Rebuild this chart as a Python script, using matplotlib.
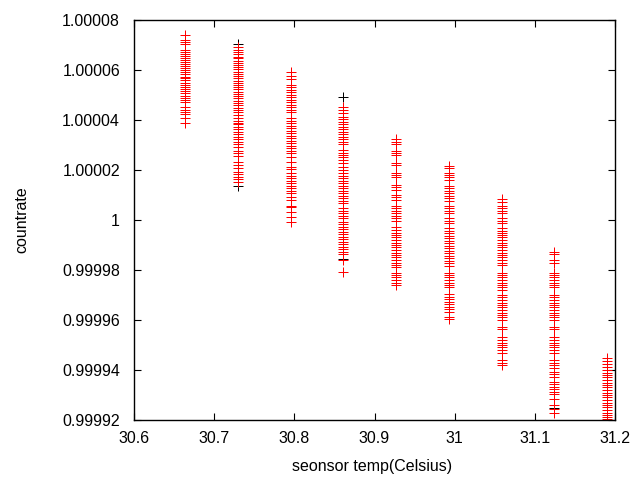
import matplotlib

matplotlib.use("Agg")
import matplotlib.pyplot as plt
from matplotlib.ticker import FuncFormatter, MultipleLocator

# sensor temperature of each measurement group (Celsius)
temps = [30.664, 30.730, 30.796, 30.861, 30.927, 30.993, 31.059, 31.124, 31.190]

# countrate readings per group, stored as (countrate - 1) * 1e6
rate_1 = [74, 72, 71.3, 70.3, 68, 67.3, 66.4, 65.6, 64.9, 64, 63.3, 62.4, 61.7, 60.9,
          60, 59.3, 58.3, 57.3, 56.7, 56, 54.9, 54, 53.3, 52.4, 51.6, 50.7, 49.7,
          48.9, 48, 47.1, 45.2, 44, 43.3, 42.3, 41, 39]
rate_2 = [69.3, 68, 67.3, 66.3, 65.3, 64.7, 63.6, 62.7, 62, 61.1, 60.3, 59.3, 58.4,
          57.6, 56.7, 55.7, 54.9, 54, 53.1, 52.3, 51.3, 50.4, 49.6, 48.7, 47.7, 46.7,
          46, 44.9, 44, 43.1, 42, 40.9, 39.7, 38.9, 38.3, 37.3, 36.4, 35.3, 34.3,
          33.3, 32.4, 31.3, 30.3, 29.3, 27.6, 26.7, 25.7, 23.1, 22, 20.9, 19.3, 18.4,
          17.3, 16.4, 15.1]
rate_3 = [59.3, 57.6, 56.3, 54, 53.1, 52, 51.1, 50, 49.1, 48, 47.1, 46, 45.1, 44,
          43.3, 40.7, 39.6, 38.7, 37.7, 36.7, 35.7, 34.7, 33.7, 32.7, 31.7, 30.7,
          29.7, 28.7, 27.7, 26.7, 25.3, 23.3, 21.3, 20.4, 18.7, 17.6, 16.7, 15.6,
          14.7, 13.6, 12.7, 11.6, 10.7, 9.3, 8, 5.7, 5.1, 3.3, 1.3, -0.7]
rate_4 = [45.3, 44, 42.9, 41.3, 40.3, 39.3, 38.4, 37.3, 36.4, 35.3, 34.4, 33.3, 32.4,
          31.3, 30.4, 28, 26.9, 26, 25.1, 24, 22.9, 21.3, 20, 18.7, 17.6, 16.7, 15.6,
          14.7, 13.6, 12.7, 11.6, 10.7, 9.6, 8.7, 7.6, 6.7, 4.7, 3.7, 2.7, 1.6, 0.7,
          -0.7, -1.7, -2.7, -3.7, -4.7, -5.6, -6.7, -7.7, -8.7, -9.7, -10.7, -11.7,
          -12.7, -13.7, -16, -20.8]
rate_5 = [32.3, 31.3, 30.4, 27.7, 26.9, 26, 22.9, 22, 18.9, 18, 17.1, 14, 13.1, 12,
          10, 9.1, 8, 5.6, 4.7, 3.7, 2.7, 1.6, 0.7, -0.3, -2.9, -4, -5.1, -6, -6.9,
          -8, -9.1, -10, -10.9, -12, -13.1, -14, -14.9, -16, -17.1, -18, -18.9,
          -21.1, -22, -22.9, -24, -25.1, -26]
rate_6 = [21.6, 20.7, 18.9, 18, 17.1, 16, 13.6, 12.7, 11.7, 10.7, 9.6, 8.7, 7.7, 5.6,
          4.7, 3.7, 2.7, 0.7, -0.3, -1.3, -3.3, -4.3, -5.3, -6.4, -7.3, -8.3, -9.3,
          -10.4, -11.3, -12.3, -13.3, -14.4, -15.3, -16.3, -17.3, -18.4, -21.1, -22,
          -22.9, -24, -25.1, -26, -26.9, -29.6, -30.7, -31.7, -32.7, -33.6, -34.7,
          -35.7, -36.7, -38.7, -39.7]
rate_7 = [8.3, 7.3, 5.6, 4.7, 3.7, 2.7, 0.7, -0.3, -1.1, -3.3, -4.3, -5.1, -6, -6.9,
          -8, -9.1, -10, -10.9, -12, -13.1, -14, -14.9, -16, -17.1, -18, -21.1, -22,
          -22.9, -24, -25.1, -26, -26.9, -28, -30, -30.9, -32, -33.1, -34, -34.9,
          -36, -37.1, -38, -38.9, -40, -42.9, -43.7, -46.9, -48, -49.1, -50, -50.9,
          -52, -53.3, -56, -57.1, -58]
rate_8 = [-12.7, -13.6, -16, -17.1, -21.1, -22, -22.9, -24, -25.1, -26, -26.9, -30,
          -30.9, -32, -33.1, -34, -34.9, -36, -37.1, -38, -38.9, -40, -42.9, -43.7,
          -46.9, -48, -49.1, -50, -50.9, -52, -53.3, -56, -57.1, -58, -59.3, -60.7,
          -61.6, -62.7, -64.7, -65.6, -66.7, -67.7, -68.7, -69.6, -71.7, -74, -75.7,
          -77.3]
rate_9 = [-55.3, -56.3, -57.6, -58.7, -60, -61.1, -62, -62.9, -64, -65.1, -66, -66.9,
          -68, -69.1, -70, -70.9, -72, -73.1, -74, -74.9, -76, -77.1, -78, -78.9,
          -79.7, -80]

# first (black) series: only the readings not hidden under the red series
black_temps = [30.730, 30.730, 30.861, 30.861, 31.124]
black_rates = [70.4, 13.6, 49.1, -15.5, -75.0]

groups = [rate_1, rate_2, rate_3, rate_4, rate_5, rate_6, rate_7, rate_8, rate_9]

plt.rcParams["font.family"] = ["Liberation Sans", "DejaVu Sans"]
plt.rcParams["font.size"] = 11.5

xs, ys = [], []
for t, g in zip(temps, groups):
    for v in g:
        xs.append(t)
        ys.append(1 + v * 1e-6)
by = [1 + v * 1e-6 for v in black_rates]

fig = plt.figure(figsize=(6.4, 4.8), dpi=100)
ax = fig.add_axes([134 / 640, 60 / 480, 481 / 640, 400 / 480])

# 1 px wide strokes so the crosses come out crisp like the gnuplot png
mk = dict(linestyle="none", marker="+", markersize=6.5, markeredgewidth=0.72,
          antialiased=False)
ax.plot(black_temps, by, color="black", **mk)
ax.plot(xs, ys, color="#ff0000", **mk)

ax.set_xlim(30.6, 31.2)
ax.set_ylim(0.99992, 1.00008)
ax.xaxis.set_major_locator(MultipleLocator(0.1))
ax.yaxis.set_major_locator(MultipleLocator(0.00002))
ax.xaxis.set_major_formatter(FuncFormatter(lambda v, _: f"{v:.6g}"))
ax.yaxis.set_major_formatter(FuncFormatter(lambda v, _: f"{v:.6g}"))
ax.tick_params(direction="in", length=5, width=0.8, top=True, right=True,
               labelsize=11.5, colors="black")
ax.tick_params(axis="y", pad=10)
ax.tick_params(axis="x", pad=8)
for s in ax.spines.values():
    s.set_linewidth(1.0)

fig.text(372 / 640, 1 - 466 / 480, "seonsor temp(Celsius)", ha="center", va="center",
         fontsize=11.5)
fig.text(22 / 640, 1 - 220 / 480, "countrate", ha="center", va="center",
         rotation=90, fontsize=11.5)

fig.savefig("out.png", dpi=100)
